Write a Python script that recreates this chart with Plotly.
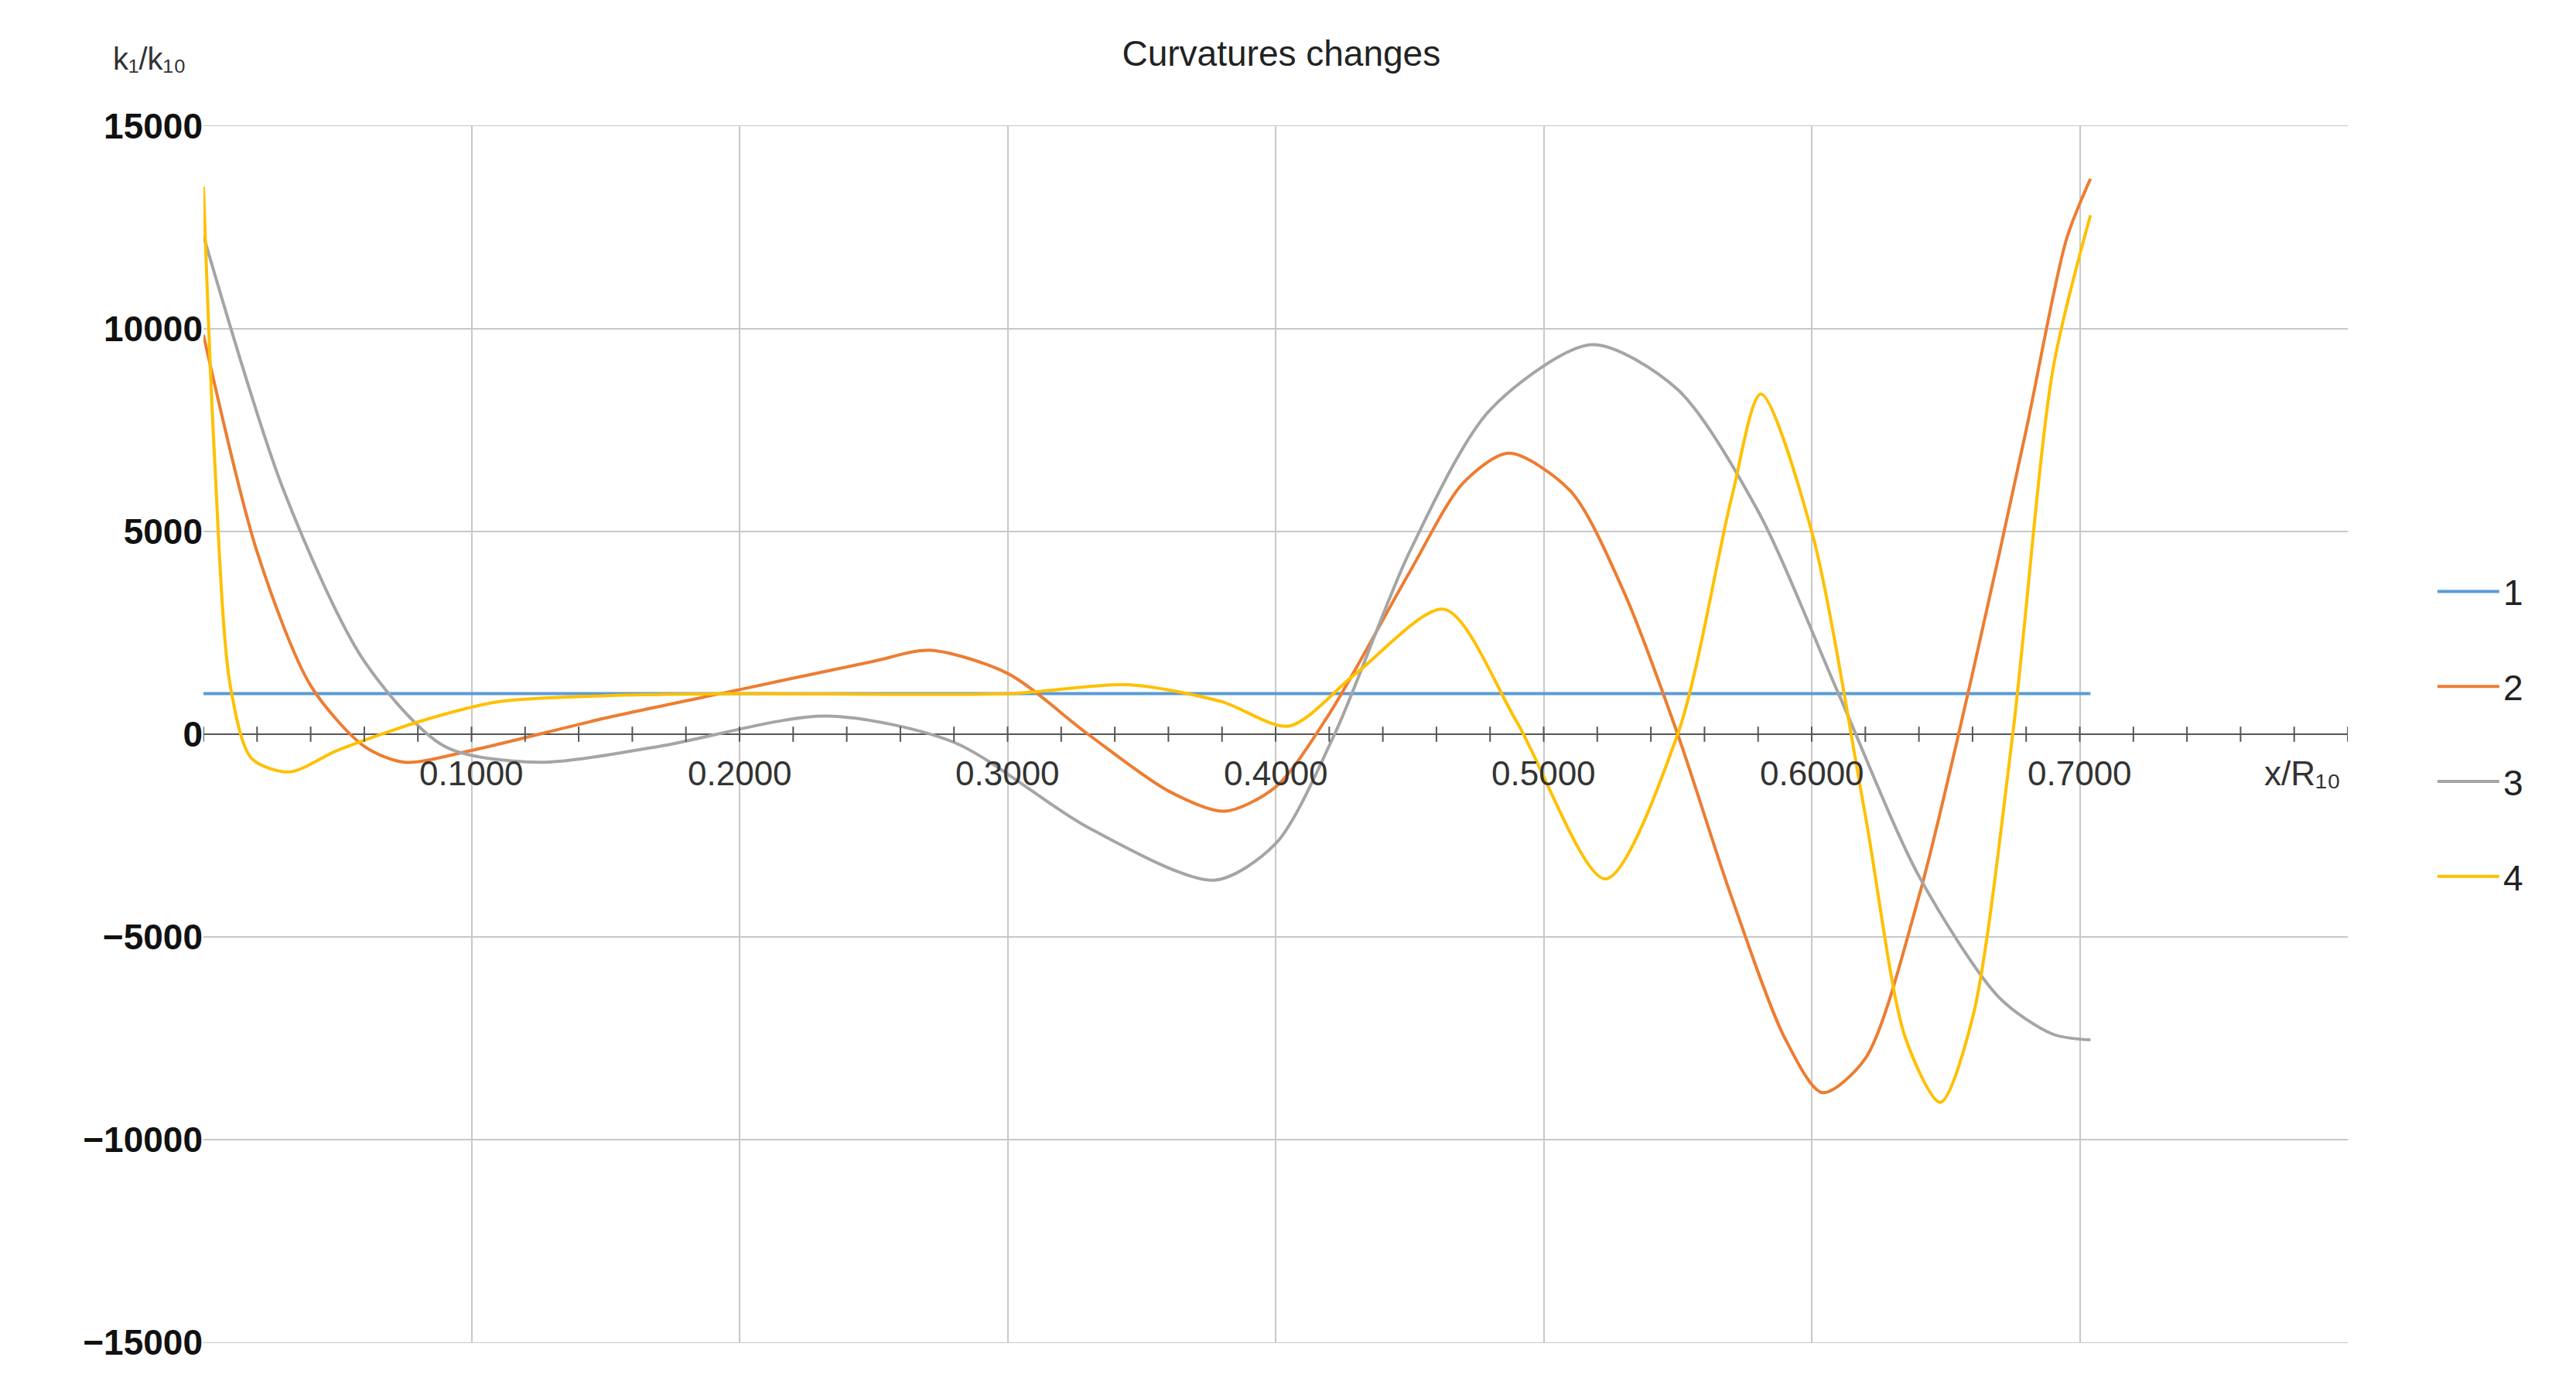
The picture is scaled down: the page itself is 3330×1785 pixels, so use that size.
import plotly.graph_objects as go

# series data
x1 = [0.0, 0.704]
y1 = [1000, 1000]

x2 = [0.0, 0.02, 0.04, 0.06, 0.075, 0.1, 0.15, 0.2, 0.25, 0.271, 0.3, 0.33, 0.36, 0.381, 0.4, 0.42, 0.45, 0.47,
      0.487, 0.51, 0.53, 0.55, 0.57, 0.59, 0.604, 0.62, 0.64, 0.66, 0.68, 0.695, 0.704]
y2 = [9850, 4500, 1200, -300, -690, -400, 400, 1100, 1800, 2070, 1500, 0, -1400, -1900, -1300, 500, 4000, 6200,
      6930, 6000, 3500, 0, -4000, -7500, -8840, -8000, -4000, 1500, 7500, 12200, 13700]

x3 = [0.0, 0.03, 0.06, 0.09, 0.125, 0.17, 0.232, 0.28, 0.33, 0.377, 0.4, 0.422, 0.45, 0.48, 0.518, 0.55, 0.58,
      0.61, 0.64, 0.67, 0.69, 0.704]
y3 = [12300, 6000, 1800, -300, -690, -300, 450, -200, -2300, -3600, -2700, 0, 4500, 8000, 9610, 8500, 5500,
      1000, -3500, -6500, -7400, -7540]

x4 = [0.0, 0.004, 0.01, 0.018, 0.032, 0.05, 0.08, 0.11, 0.15, 0.2, 0.3, 0.345, 0.38, 0.405, 0.43, 0.463, 0.49,
      0.523, 0.55, 0.57, 0.581, 0.6, 0.62, 0.635, 0.648, 0.66, 0.675, 0.69, 0.704]
y4 = [13500, 7000, 1200, -600, -930, -400, 300, 800, 950, 1000, 1000, 1220, 800, 200, 1500, 3080, 300,
      -3570, 0, 5800, 8390, 5000, -2000, -7500, -9080, -7000, 0, 9000, 12800]

names = ['1', '2', '3', '4']
colors = ['#5B9BD5', '#ED7D31', '#A5A5A5', '#FFC000']

y_ticks = [15000, 10000, 5000, 0, -5000, -10000, -15000]
y_labels = ['15000', '10000', '5000', '0', '\u22125000', '\u221210000', '\u221215000']
x_labels = [0.1, 0.2, 0.3, 0.4, 0.5, 0.6, 0.7]
minor_ticks = [i * 0.02 for i in range(41)]

fig = go.Figure()
for xs, ys, nm, c in zip([x1, x2, x3, x4], [y1, y2, y3, y4], names, colors):
    fig.add_trace(go.Scatter(x=xs, y=ys, mode='lines', name=nm, legendgroup=nm,
                             line=dict(color=c, width=4, shape='spline', smoothing=0.8)))

# tick marks along the zero line
fig.add_trace(go.Scatter(x=minor_ticks, y=[0] * len(minor_ticks), mode='markers', showlegend=False, hoverinfo='skip',
                         marker=dict(symbol='line-ns', size=14, line=dict(color='#555', width=2))))

for v in x_labels:
    fig.add_annotation(x=v, y=0, text=f'{v:.4f}', showarrow=False, yshift=-50, font=dict(size=44, color='#333'))
fig.add_annotation(x=0.798, y=0, text='x/R\u2081\u2080', showarrow=False, yshift=-50, xanchor='right', font=dict(size=44, color='#333'))
fig.add_annotation(xref='paper', yref='paper', x=-0.025, y=1.04, text='k\u2081/k\u2081\u2080', showarrow=False,
                   xanchor='center', yanchor='bottom', font=dict(size=40, color='#333'))

fig.update_layout(
    width=3330, height=1785, plot_bgcolor='white', paper_bgcolor='white',
    font=dict(family='Liberation Sans, Arial', color='#222'),
    title=dict(text='Curvatures changes', x=0.495, xanchor='center', y=0.975, font=dict(size=46, color='#222')),
    margin=dict(l=255, r=303, t=155, b=58),
    legend=dict(x=1.04, y=0.5, yanchor='middle', font=dict(size=46), tracegroupgap=60, itemwidth=80),
    xaxis=dict(range=[0, 0.8], tickvals=[0.1 * i for i in range(9)], showticklabels=False, showgrid=True,
               gridcolor='#c8c8c8', gridwidth=2, zeroline=False, showline=True, mirror=True, linecolor='#c8c8c8'),
    yaxis=dict(range=[-15000, 15000], tickvals=y_ticks, ticktext=y_labels, showgrid=True, gridcolor='#c8c8c8',
               gridwidth=2, zeroline=True, zerolinecolor='#555', zerolinewidth=2,
               tickfont=dict(size=46, color='#111', family='Liberation Sans, Arial Black', weight='bold'), ticks=''),
)

fig.write_html('out.html')
